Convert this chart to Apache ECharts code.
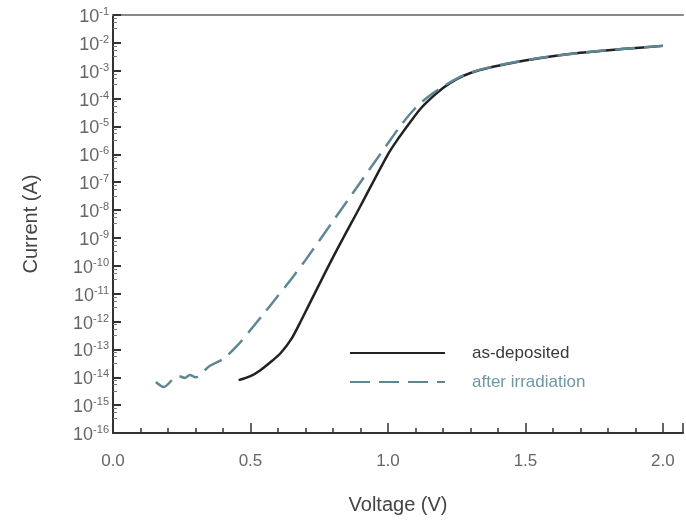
<!DOCTYPE html>
<html>
<head>
<meta charset="utf-8">
<script src="https://cdn.jsdelivr.net/npm/echarts@6/dist/echarts.min.js"></script>
<style>html,body{margin:0;padding:0;background:#fff}#c{width:686px;height:523px}</style>
</head>
<body>
<div id="c"></div>
<script>
// Voltage (V) and current (A) values
var depVoltage = [0.457, 0.50, 0.536, 0.58, 0.61, 0.65, 0.68, 0.71, 0.80, 0.90, 1.00, 1.04, 1.08, 1.12, 1.16, 1.20, 1.25, 1.30, 1.37, 1.45, 1.55, 1.70, 1.85, 2.00];
var depCurrent = [7.9e-15, 1.1e-14, 1.8e-14, 4.0e-14, 7.4e-14, 2.5e-13, 9.0e-13, 3.5e-12, 2.0e-10, 1.4e-8, 1.0e-6, 4.0e-6, 1.4e-5, 4.5e-5, 1.1e-4, 2.4e-4, 5.0e-4, 8.3e-4, 1.3e-3, 1.9e-3, 2.8e-3, 4.4e-3, 6.0e-3, 7.8e-3];
var irrVoltage = [0.156, 0.185, 0.22, 0.24, 0.26, 0.28, 0.30, 0.35, 0.40, 0.45, 0.50, 0.55, 0.59, 0.65, 0.70, 0.80, 0.90, 1.00, 1.05, 1.10, 1.15, 1.20, 1.25, 1.30, 1.37, 1.45, 1.55, 1.70, 1.85, 2.00];
var irrCurrent = [6.8e-15, 4.5e-15, 8.9e-15, 1.1e-14, 9.5e-15, 1.2e-14, 1.0e-14, 2.5e-14, 4.5e-14, 1.3e-13, 5.0e-13, 2.0e-12, 6.3e-12, 3.5e-11, 1.6e-10, 4.0e-9, 1.0e-7, 2.5e-6, 1.2e-5, 4.6e-5, 1.25e-4, 2.7e-4, 5.2e-4, 8.5e-4, 1.32e-3, 1.95e-3, 2.85e-3, 4.4e-3, 6.0e-3, 7.9e-3];
var seriesNames = ['as-deposited', 'after irradiation'];
var xTickLabels = ['0.0', '0.5', '1.0', '1.5', '2.0'];

function pairs(xs, ys) { return xs.map(function (x, i) { return [x, ys[i]]; }); }

var chart = echarts.init(document.getElementById('c'));
var FONT = 'Liberation Sans, Arial, sans-serif';
chart.setOption({
  animation: false,
  backgroundColor: '#fff',
  grid: { left: 113, right: 3, top: 15, bottom: 90 },
  legend: {
    orient: 'vertical', left: 344, top: 338, itemWidth: 95, itemHeight: 14, itemGap: 9,
    itemStyle: { color: 'transparent', borderColor: 'transparent', borderWidth: 0 },
    data: [
      { name: seriesNames[0], textStyle: { color: '#3a3a3a' } },
      { name: seriesNames[1], textStyle: { color: '#6f98a4' } }
    ],
    textStyle: { fontFamily: FONT, fontSize: 17, lineHeight: 20, padding: [0, 0, 0, 22] }
  },
  xAxis: [{
    type: 'value', min: 0, max: 2.073, interval: 0.5,
    axisLine: { show: true, lineStyle: { color: '#333', width: 2 } },
    axisTick: { show: true, inside: true, length: 10, lineStyle: { color: '#333', width: 1.5 } },
    minorTick: { show: true, splitNumber: 5, length: 5, lineStyle: { color: '#333', width: 1.5 } },
    splitLine: { show: false },
    axisLabel: { showMaxLabel: false, margin: 20, color: '#666', fontSize: 17, fontFamily: FONT,
      formatter: function (v) { var i = Math.round(v / 0.5); return xTickLabels[i] || ''; } },
    name: 'Voltage (V)', nameLocation: 'middle', nameGap: 62,
    nameTextStyle: { color: '#444', fontSize: 20, fontFamily: FONT }
  }, {
    type: 'value', position: 'top', min: 0, max: 2.073,
    axisLine: { show: true, lineStyle: { color: '#888', width: 2 } },
    axisTick: { show: false }, axisLabel: { show: false }, splitLine: { show: false }
  }],
  yAxis: {
    type: 'log', logBase: 10, min: 1e-16, max: 1e-1, interval: 1,
    axisLine: { show: true, lineStyle: { color: '#333', width: 2 } },
    axisTick: { show: true, inside: true, length: 8, lineStyle: { color: '#333', width: 2 } },
    minorTick: { show: true, splitNumber: 4, length: 4, lineStyle: { color: '#777', width: 1 } },
    splitLine: { show: false },
    axisLabel: {
      margin: 4, color: '#666', fontFamily: FONT, showMinLabel: true, showMaxLabel: true,
      formatter: function (v) {
        var e = Math.round(Math.log10(v));
        return '{b|10}{s|' + e + '}';
      },
      rich: {
        b: { fontSize: 18, fontFamily: FONT, color: '#666', padding: [4, 0, 0, 0] },
        s: { fontSize: 11, fontFamily: FONT, color: '#666', padding: [0, 0, 6, 0] }
      }
    },
    name: 'Current (A)', nameLocation: 'middle', nameGap: 72,
    nameTextStyle: { color: '#444', fontSize: 20, fontFamily: FONT }
  },
  series: [{
    name: seriesNames[0], type: 'line', showSymbol: false, symbol: 'none', smooth: 0.3,
    data: pairs(depVoltage, depCurrent),
    lineStyle: { color: '#222', width: 2.5 }, itemStyle: { color: '#222' }
  }, {
    name: seriesNames[1], type: 'line', showSymbol: false, symbol: 'none', smooth: 0.3,
    data: pairs(irrVoltage, irrCurrent),
    lineStyle: { color: '#5f8793', width: 2.5, type: [20, 9] }, itemStyle: { color: '#5f8793' }
  }]
});
</script>
</body>
</html>
